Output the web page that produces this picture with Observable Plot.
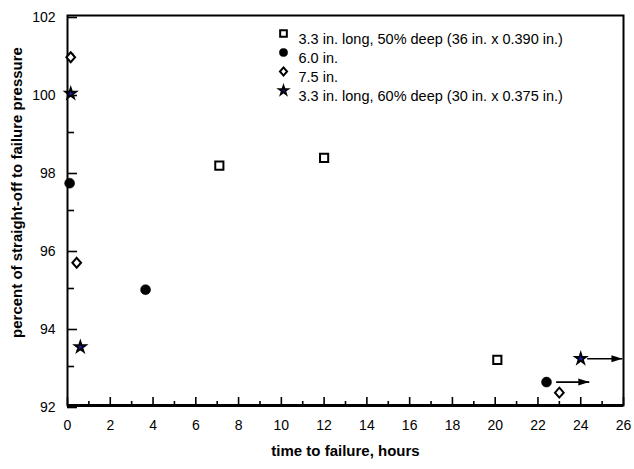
<!DOCTYPE html>
<html><head><meta charset="utf-8">
<script src="https://cdn.jsdelivr.net/npm/d3@7"></script>
<script src="https://cdn.jsdelivr.net/npm/@observablehq/plot@0.6"></script>
<style>body{margin:0;background:#fff} svg{display:block}</style>
</head><body><div id="chart"></div>
<script>
const seriesNames = [
  "3.3 in. long, 50% deep (36 in. x 0.390 in.)",
  "6.0 in.",
  "7.5 in.",
  "3.3 in. long, 60% deep (30 in. x 0.375 in.)"
];
const squareHours = [7.1, 12.0, 20.1];
const squarePct   = [98.15, 98.35, 93.17];
const circleHours = [0.1, 3.65, 22.4];
const circlePct   = [97.7, 94.97, 92.6];
const diamondHours = [0.15, 0.43, 23.0];
const diamondPct   = [100.93, 95.66, 92.33];
const starHours = [0.15, 0.6, 24.0];
const starPct   = [100.0, 93.5, 93.2];
const arrowFrom = [22.85, 24.3];
const arrowTo   = [24.4, 25.95];
const arrowPct  = [92.6, 93.2];
const xMajorTicks = [0, 2, 4, 6, 8, 10, 12, 14, 16, 18, 20, 22, 24, 26];
const xMinorTicks = [1, 3, 5, 7, 9, 11, 13, 15, 17, 19, 21, 23, 25];
const yMajorTicks = [92, 94, 96, 98, 100, 102];
const yMinorTicks = [93, 95, 97, 99, 101];
const xTitle = "time to failure, hours";
const yTitle = "percent of straight-off to failure pressure";

const pts = (xs, ys) => xs.map((x, i) => ({x, y: ys[i]}));
const diamondSym = {draw(ctx, size) {
  const h = Math.sqrt(size) * 0.62, w = h * 0.88;
  ctx.moveTo(0, -h); ctx.lineTo(w, 0); ctx.lineTo(0, h); ctx.lineTo(-w, 0); ctx.closePath();
}};
const headSym = {draw(ctx) {
  ctx.moveTo(0, 0); ctx.lineTo(-11, -3.5); ctx.lineTo(-11, 3.5); ctx.closePath();
}};
const styles = [
  {symbol: "square", r: 4.6, fill: "white", stroke: "black", strokeWidth: 2},
  {symbol: "circle", r: 5, fill: "black", stroke: "black", strokeWidth: 0.5},
  {symbol: diamondSym, r: 4.5, fill: "white", stroke: "black", strokeWidth: 2},
  {symbol: "star", r: 3.4, fill: "#1a1ab0", stroke: "black", strokeWidth: 1.8}
];
const seriesData = [
  pts(squareHours, squarePct),
  pts(circleHours, circlePct),
  pts(diamondHours, diamondPct),
  pts(starHours, starPct)
];
const font = "'Liberation Sans', Arial, Helvetica, sans-serif";

const legendMarks = seriesNames.flatMap((name, i) => [
  Plot.dot([name], {frameAnchor: "top-left", dx: 216, dy: 18 + 19 * i, ...styles[i], r: styles[i].r * 0.82}),
  Plot.text([name], {frameAnchor: "top-left", dx: 231, dy: 18 + 19 * i, text: d => d,
    textAnchor: "start", fontSize: 14.5, fill: "black"})
]);

const chart = Plot.plot({
  width: 634, height: 469,
  marginLeft: 67, marginRight: 11, marginTop: 15, marginBottom: 64,
  style: {fontFamily: font, background: "white", color: "black"},
  x: {domain: [0, 26]},
  y: {domain: [92, 102]},
  marks: [
    Plot.axisX(xMinorTicks, {tickSize: -4, tickFormat: () => "", strokeWidth: 1.6, label: null}),
    Plot.axisX(xMajorTicks, {tickSize: -8, tickPadding: 23, fontSize: 14, strokeWidth: 1.6, label: null}),
    Plot.axisY(yMinorTicks, {tickSize: -7, tickFormat: () => "", strokeWidth: 1.6, label: null}),
    Plot.axisY(yMajorTicks, {tickSize: -10, tickPadding: 22, fontSize: 14, dy: 2, strokeWidth: 1.6, label: null}),
    Plot.frame({strokeWidth: 2}),
    Plot.ruleY([92], {strokeWidth: 3}),
    Plot.text([xTitle], {frameAnchor: "bottom", dy: 50, text: d => d, fontSize: 15, fontWeight: "bold"}),
    Plot.text([yTitle], {frameAnchor: "left", textAnchor: "middle", dx: -50, dy: -18, rotate: -90, text: d => d, fontSize: 15, fontWeight: "bold"}),
    Plot.link(arrowFrom.map((x, i) => ({x1: x, x2: arrowTo[i], y: arrowPct[i]})),
      {x1: "x1", x2: "x2", y1: "y", y2: "y", stroke: "black", strokeWidth: 1.6}),
    Plot.dot(pts(arrowTo, arrowPct), {x: "x", y: "y", symbol: headSym, fill: "black", stroke: "none"}),
    ...seriesData.map((data, i) => Plot.dot(data, {x: "x", y: "y", ...styles[i]})),
    ...legendMarks
  ]
});
document.getElementById("chart").append(chart);
</script>
</body></html>
